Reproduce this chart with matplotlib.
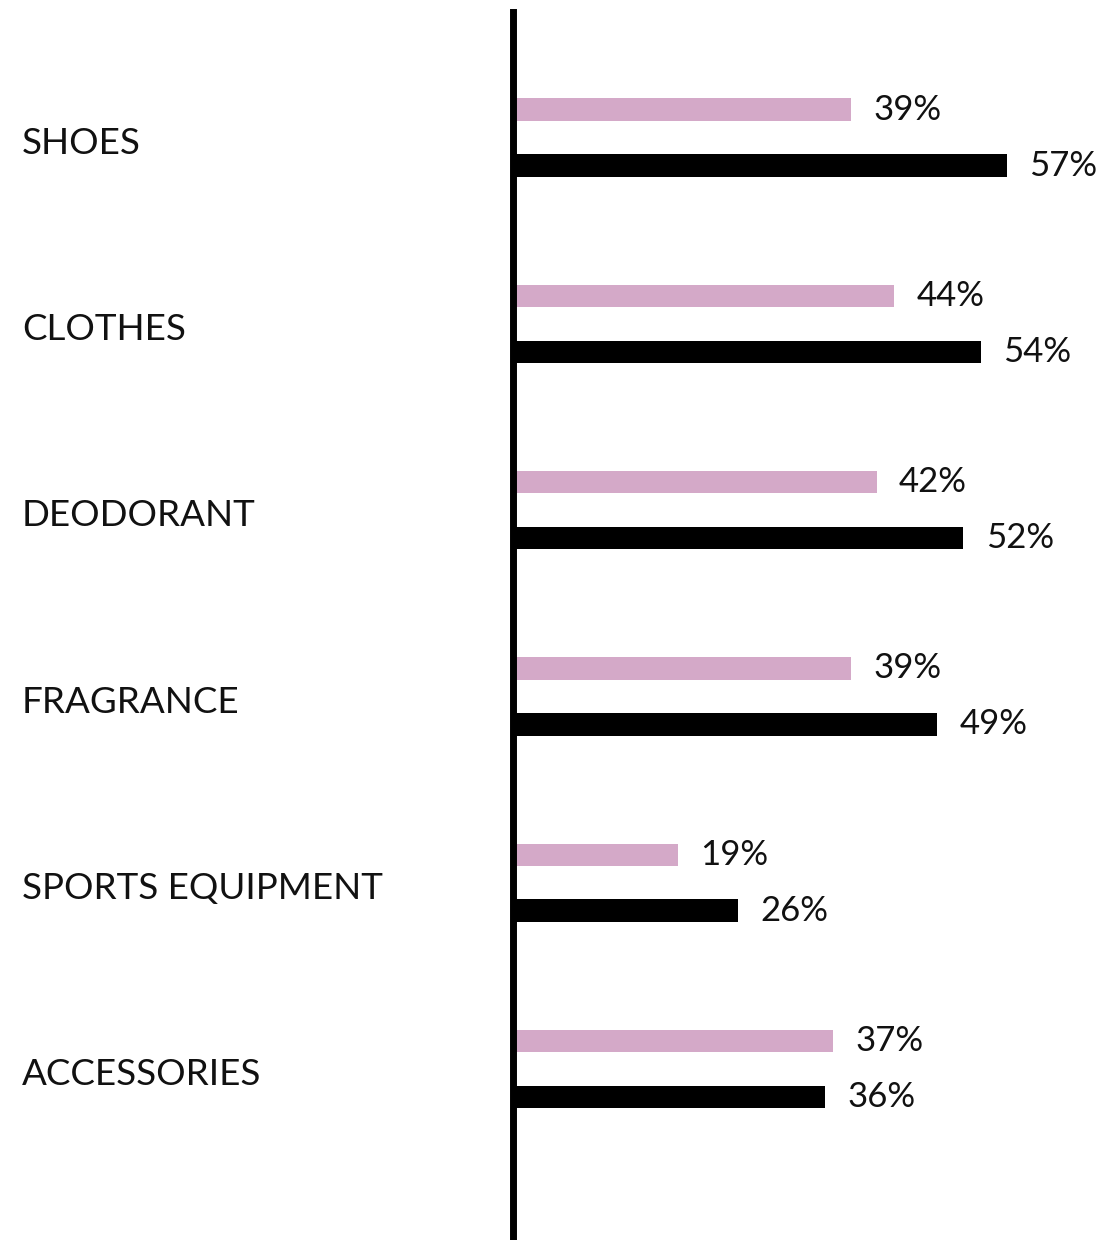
import matplotlib.pyplot as plt
import matplotlib.transforms as mtransforms
import numpy as np

categories = ['SHOES', 'CLOTHES', 'DEODORANT', 'FRAGRANCE', 'SPORTS EQUIPMENT', 'ACCESSORIES']
pink_values = [39, 44, 42, 39, 19, 37]
black_values = [57, 54, 52, 49, 26, 36]

plt.rcParams['font.family'] = ['Lato', 'DejaVu Sans']

fig = plt.figure(figsize=(11.02, 12.40), dpi=100)
ax = fig.add_axes([513 / 1102, 0, (1102 - 513) / 1102, (1240 - 12) / 1240])

y = np.arange(len(categories))
offset = 0.15
height = 0.12

ax.barh(y - offset, pink_values, height=height, color='#D4A9C8')
ax.barh(y + offset, black_values, height=height, color='black')

# percent labels just right of each bar
for i in range(len(categories)):
    ax.annotate('{}%'.format(pink_values[i]), (pink_values[i], y[i] - offset),
                xytext=(16, 0), textcoords='offset points',
                ha='left', va='center', fontsize=25, color='#111111')
    ax.annotate('{}%'.format(black_values[i]), (black_values[i], y[i] + offset),
                xytext=(16, 0), textcoords='offset points',
                ha='left', va='center', fontsize=25, color='#111111')

# category names sit at the left edge of the figure
trans = mtransforms.blended_transform_factory(fig.transFigure, ax.transData)
for i, cat in enumerate(categories):
    ax.text(22 / 1102, y[i] + 0.03, cat, transform=trans, ha='left', va='center',
            fontsize=26.5, color='#111111')

ax.set_xlim(0, 68)
ax.set_ylim(5.918, -0.674)

for side in ['top', 'right', 'bottom']:
    ax.spines[side].set_visible(False)
ax.spines['left'].set_linewidth(5)
ax.set_xticks([])
ax.set_yticks([])

fig.savefig('out.png', dpi=100)
